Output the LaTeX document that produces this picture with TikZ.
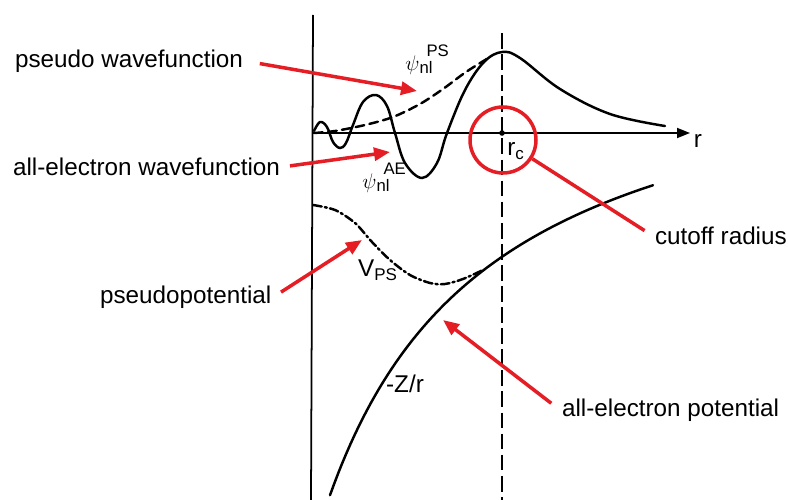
\documentclass[tikz,border=0pt]{standalone}
\usepackage{amsmath}
\usepackage{fontspec}
\setmainfont{Liberation Sans}
\usetikzlibrary{arrows.meta,positioning}
\definecolor{callred}{RGB}{228,30,36}

\begin{document}
\begin{tikzpicture}[x=0.02cm, y=-0.02cm,
    every node/.style={font=\fontsize{13.8}{16}\selectfont, inner sep=1pt},
    curve/.style={line width=1.4pt, line cap=round},
    callout/.style={callred, line width=2pt, -{Triangle[length=0.32cm, width=0.26cm]}},
    idx/.style={font=\fontsize{9.5}{10}\selectfont},
  ]
  \useasboundingbox (0,0) rectangle (788,500);

  % axes and cutoff line
  \coordinate (O) at (313,133);
  \coordinate (ytop) at (313,15);
  \coordinate (ybot) at (311,500);
  \coordinate (rend) at (690,133);
  \coordinate (rc) at (502,133);
  \coordinate (rctop) at (502,33);
  \coordinate (rcbot) at (502,500);
  \draw[line width=1pt] (ytop) -- (ybot);
  \draw[line width=1pt, -{Triangle[length=0.26cm, width=0.2cm]}] (O) -- (rend);
  \draw[line width=1pt, dash pattern=on 9pt off 3pt] (rctop) -- (rcbot);
  \fill (rc) circle (1.6pt);
  \node (raxis) at (698,141) {r};
  \node (rclab) at (516,151) {$\text{r}_{\text{c}}$};

  % wavefunctions
  \draw[curve] plot[smooth, tension=0.6] coordinates {(314,131) (320,122) (327,127) (333,142) (340,148) (346,143) (353,125) (363,102) (376,95) (387,106) (395,133) (405,163) (422,178) (437,163) (447,133) (465,90) (484,62) (502,52) (520,58) (560,89) (610,114) (665,126)};
  \draw[curve, dash pattern=on 5pt off 3pt] plot[smooth] coordinates {(314,133) (335,131) (365,125) (393,117) (420,104) (443,89) (466,72) (490,57)};
  \node[anchor=base west, inner sep=0pt] (pslab) at (405,71) {\fontsize{12}{12}\selectfont$\psi$\rlap{\hspace{4pt}\raisebox{8pt}{\fontsize{9.5}{10}\selectfont PS}}\raisebox{-1.5pt}{\fontsize{9.5}{10}\selectfont nl}};
  \node[anchor=base west, inner sep=0pt] (aelab) at (362,189) {\fontsize{12}{12}\selectfont$\psi$\rlap{\hspace{4pt}\raisebox{8.5pt}{\fontsize{9.5}{10}\selectfont AE}}\raisebox{-1.5pt}{\fontsize{9.5}{10}\selectfont nl}};

  % potentials
  \draw[curve, dash pattern=on 5pt off 1.8pt on 1.2pt off 1.8pt] plot[smooth] coordinates {(313,205) (335,210) (355,223) (372,242) (390,260) (410,275) (430,283) (445,284) (463,279) (483,270)};
  \draw[curve] plot[domain=330:653, samples=80] (\x, {24+791.6/((\x-162)/100)});
  \node (vlab) at (378,270) {V$_{\text{PS}}$};
  \node (zlab) at (405,384) {-Z/r};

  % red callouts
  \node[circle, draw=callred, line width=2pt, minimum size=1.32cm] (rcircle) at (503,140) {};
  \node[anchor=west] (pswf) at (13,61) {pseudo wavefunction};
  \node[anchor=west] (aewf) at (11,167) {all-electron wavefunction};
  \node[anchor=west] (pspot) at (98,297) {pseudopotential};
  \node[anchor=west] (cutoff) at (653,236) {cutoff radius};
  \node[anchor=west] (aepot) at (560,410) {all-electron potential};
  \coordinate (pswftip) at (417,91);
  \coordinate (aewftip) at (390,152);
  \coordinate (pspottip) at (362,240);
  \coordinate (aepottip) at (443,320);
  \draw[callout, shorten <=0.3cm] (pswf.east) -- (pswftip);
  \draw[callout, shorten <=0.16cm] (aewf.east) -- (aewftip);
  \draw[callout, shorten <=0.18cm] (pspot.east) -- (pspottip);
  \draw[callout, shorten <=0.22cm] (aepot.west) -- (aepottip);
  \draw[callred, line width=2pt, shorten <=0.2cm] (cutoff.west) -- (rcircle);
\end{tikzpicture}
\end{document}
